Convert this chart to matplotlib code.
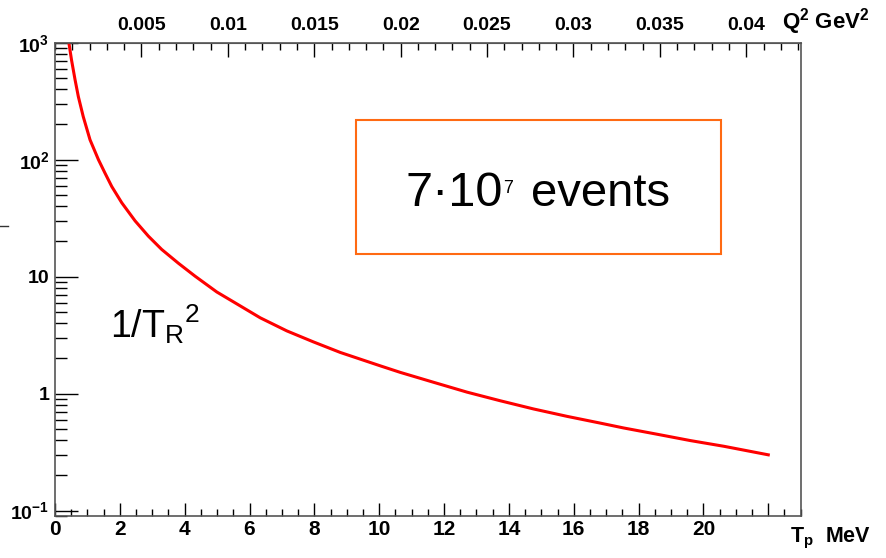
import matplotlib
matplotlib.use("Agg")
import matplotlib.pyplot as plt
from matplotlib.patches import Rectangle
from matplotlib.lines import Line2D
from matplotlib.ticker import FixedLocator, MultipleLocator

plt.rcParams['font.family'] = ['Liberation Sans', 'DejaVu Sans']
plt.rcParams['mathtext.fontset'] = 'custom'
plt.rcParams['mathtext.rm'] = 'Liberation Sans'
plt.rcParams['mathtext.it'] = 'Liberation Sans:italic'
plt.rcParams['mathtext.bf'] = 'Liberation Sans:bold'
plt.rcParams['mathtext.default'] = 'regular'

# proton kinetic energy (MeV) and counts
tp = [0.43, 0.51, 0.62, 0.72, 0.87, 1.08, 1.34, 1.54, 1.75, 2.06, 2.47, 2.88,
      3.29, 3.81, 4.32, 4.99, 5.5, 6.33, 7.15, 7.97, 8.8, 10.03, 10.65, 11.68,
      12.71, 13.73, 14.76, 15.79, 16.82, 17.54, 18.57, 19.6, 20.63, 22.0]
counts = [990, 711, 480, 346, 234, 148, 100, 77, 59, 42.8, 30, 22.2,
          17.1, 13.0, 10.1, 7.4, 6.1, 4.45, 3.44, 2.77, 2.25, 1.73, 1.52, 1.25,
          1.03, 0.87, 0.74, 0.64, 0.56, 0.509, 0.45, 0.397, 0.355, 0.30]

x_ticks = [0, 2, 4, 6, 8, 10, 12, 14, 16, 18, 20, 22]
x_labels = ['0', '2', '4', '6', '8', '10', '12', '14', '16', '18', '20', '']
y_ticks = [0.1, 1, 10, 100, 1000]
y_labels = [r'$\mathbf{10^{-1}}$', '1', '10', r'$\mathbf{10^{2}}$', r'$\mathbf{10^{3}}$']
q2_ticks = [0.005, 0.01, 0.015, 0.02, 0.025, 0.03, 0.035, 0.04]
q2_labels = ['0.005', '0.01', '0.015', '0.02', '0.025', '0.03', '0.035', '0.04']

Q2_PER_MEV = 2 * 0.938 * 1e-3  # Q^2 = 2 M Tp

W, H = 886, 558
fig = plt.figure(figsize=(W / 100, H / 100), dpi=100)
ax = fig.add_axes([55 / W, 1 - 516 / H, (800.7 - 55) / W, (516 - 42.7) / H])

ax.plot(tp, counts, color='#ff0000', lw=2.2)
ax.set_yscale('log')
ax.set_xlim(0, 23)
ax.set_ylim(0.09, 1000)

for s in ax.spines.values():
    s.set_color('#555555')
    s.set_linewidth(1.2)

ax.xaxis.set_major_locator(FixedLocator(x_ticks))
ax.set_xticklabels(x_labels, fontweight='bold', fontsize=15)
ax.xaxis.set_minor_locator(MultipleLocator(0.5))
ax.yaxis.set_major_locator(FixedLocator(y_ticks))
ax.set_yticklabels(y_labels, fontweight='bold', fontsize=14)

ax.tick_params(axis='x', which='major', direction='in', length=9.5, width=1,
               top=False, pad=3)
ax.tick_params(axis='x', which='minor', direction='in', length=5, width=1, top=False)
ax.tick_params(axis='y', which='major', direction='in', length=16.5, width=1,
               right=False, pad=4)
ax.tick_params(axis='y', which='minor', direction='in', length=8.5, width=1,
               right=False, labelleft=False)

top = ax.secondary_xaxis('top', functions=(lambda t: t * Q2_PER_MEV,
                                           lambda q: q / Q2_PER_MEV))
top.xaxis.set_major_locator(FixedLocator(q2_ticks))
top.set_xticklabels(q2_labels, fontweight='bold', fontsize=14)
top.xaxis.set_minor_locator(MultipleLocator(0.001))
top.tick_params(which='major', direction='in', length=10, width=1, pad=6)
top.tick_params(which='minor', direction='in', length=5, width=1)
top.spines['top'].set_color('#555555')

fig.text(782 / W, 1 - 22 / H, r'$\mathbf{Q^{2}\ GeV^{2}}$', fontsize=16,
         ha='left', va='center')
fig.text(790 / W, 1 - 538 / H, r'$\mathbf{T_{p}\ \ MeV}$', fontsize=15.5,
         ha='left', va='center')

fig.text(110 / W, 1 - 338 / H, r'$1/T_{R}{}^{2}$', fontsize=27,
         ha='left', va='baseline')

box = Rectangle((355.7 / W, 1 - 254 / H), (721 - 355.7) / W, (254 - 120) / H,
                transform=fig.transFigure, fill=False, edgecolor='#ff6a13', lw=1.5)
fig.add_artist(box)
fig.text(406 / W, 1 - 206 / H, '7\u00b710', fontsize=35, ha='left', va='baseline')
fig.text(503 / W, 1 - 193 / H, '7', fontsize=13, ha='left', va='baseline')
fig.text(531 / W, 1 - 206 / H, 'events', fontsize=34, ha='left', va='baseline')

fig.add_artist(Line2D([0, 8 / W], [1 - 226 / H] * 2, transform=fig.transFigure,
                      color='#333333', lw=1))

fig.savefig('out.png', dpi=100)
